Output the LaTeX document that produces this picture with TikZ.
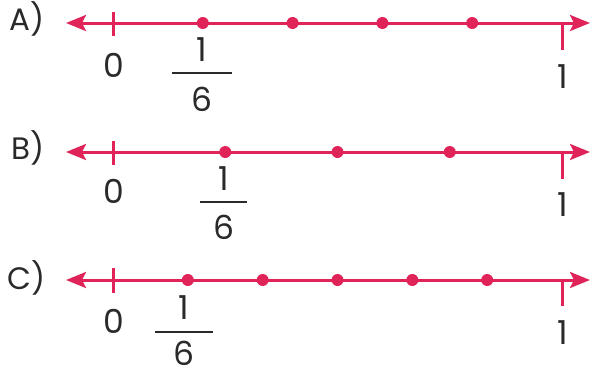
\documentclass[tikz,border=0pt]{standalone}
\usepackage{fontspec}
\setmainfont{Poppins}
\usetikzlibrary{positioning, calc, arrows.meta}
\definecolor{linered}{HTML}{E0245A}
\definecolor{inkgray}{HTML}{2A2A2A}

\begin{document}
\begin{tikzpicture}[x=1pt, y=-1pt,
    numline/.style={linered, line width=3pt,
      {Stealth[length=20pt, width=16pt, inset=4pt]}-{Stealth[length=20pt, width=16pt, inset=4pt]}},
    tickmark/.style={linered, line width=3pt},
    dotmark/.style={circle, fill=linered, inner sep=0pt, minimum size=12pt},
    numtxt/.style={inkgray, font=\fontsize{33}{33}\selectfont, inner sep=0pt},
    lettxt/.style={inkgray, font=\fontsize{31}{31}\selectfont, inner sep=0pt},
    fracbar/.style={inkgray, line width=2.4pt}]

    \useasboundingbox (0,0) rectangle (599,378);

    % Row A: split into 5 parts
    \node[lettxt] (labA) at (27,19) {A)};
    \coordinate (aL) at (66,23);
    \coordinate (aR) at (590,23);
    \coordinate (a0) at (113,23);
    \coordinate (a1) at (562,23);
    \draw[numline] (aL) -- (aR);
    \draw[tickmark] ($(a0)+(0,-11)$) -- ($(a0)+(0,13)$);
    \draw[tickmark] (a1) -- ($(a1)+(0,27)$);
    \foreach \i in {1,...,4}
        \node[dotmark] (aD\i) at ($(a0)!\i/5!(a1)$) {};
    \node[numtxt] (a0txt) at (114,65) {0};
    \node[numtxt] (a1txt) at (563,77) {1};
    \node[numtxt] (aNum) at (202,50) {1};
    \node[numtxt] (aDen) at (202,99) {6};
    \draw[fracbar] (172,73) -- (232,73);

    % Row B: split into 4 parts
    \node[lettxt] (labB) at (28,148) {B)};
    \coordinate (bL) at (66,152);
    \coordinate (bR) at (590,152);
    \coordinate (b0) at (113,152);
    \coordinate (b1) at (562,152);
    \draw[numline] (bL) -- (bR);
    \draw[tickmark] ($(b0)+(0,-11)$) -- ($(b0)+(0,13)$);
    \draw[tickmark] (b1) -- ($(b1)+(0,27)$);
    \foreach \i in {1,...,3}
        \node[dotmark] (bD\i) at ($(b0)!\i/4!(b1)$) {};
    \node[numtxt] (b0txt) at (114,191) {0};
    \node[numtxt] (b1txt) at (563,205) {1};
    \node[numtxt] (bNum) at (224,179) {1};
    \node[numtxt] (bDen) at (224,227) {6};
    \draw[fracbar] (200,202) -- (247,202);

    % Row C: split into 6 parts
    \node[lettxt] (labC) at (27,278) {C)};
    \coordinate (cL) at (66,280);
    \coordinate (cR) at (590,280);
    \coordinate (c0) at (113,280);
    \coordinate (c1) at (562,280);
    \draw[numline] (cL) -- (cR);
    \draw[tickmark] ($(c0)+(0,-12)$) -- ($(c0)+(0,13)$);
    \draw[tickmark] (c1) -- ($(c1)+(0,26)$);
    \foreach \i in {1,...,5}
        \node[dotmark] (cD\i) at ($(c0)!\i/6!(c1)$) {};
    \node[numtxt] (c0txt) at (114,321) {0};
    \node[numtxt] (c1txt) at (563,333) {1};
    \node[numtxt] (cNum) at (184,308) {1};
    \node[numtxt] (cDen) at (184,353) {6};
    \draw[fracbar] (155,332) -- (213,332);

\end{tikzpicture}
\end{document}
